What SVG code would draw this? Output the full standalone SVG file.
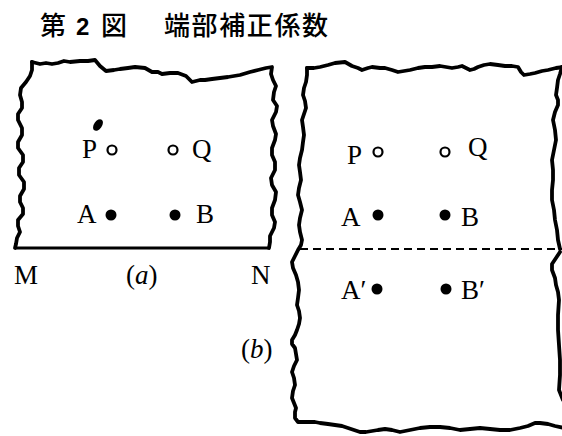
<svg xmlns="http://www.w3.org/2000/svg" width="562" height="436" viewBox="0 0 562 436">
<style>
.edge{fill:none;stroke:#000;stroke-width:3.8;stroke-linejoin:round;stroke-linecap:round}
.lbl{font-family:"Liberation Serif","Times New Roman",serif;font-size:27px;fill:#000}
.it{font-style:italic}
.ttl{font-family:"Noto Sans CJK JP","Noto Sans CJK SC",sans-serif;font-size:26px;font-weight:500;fill:#000}
.open{fill:#fff;stroke:#000;stroke-width:2.2}
.full{fill:#000}
</style>
<rect width="562" height="436" fill="#fff"/>
<g id="title">
<text class="ttl" x="40" y="35">第</text>
<text x="76" y="35" style="font-family:'Liberation Sans',Arial,sans-serif;font-weight:bold;font-size:24px">2</text>
<text class="ttl" x="101" y="35">図</text>
<text class="ttl" x="164" y="35" letter-spacing="1.6">端部補正係数</text>
</g>
<g id="panel-a">
<path class="edge" d="M32,62 L40,64 L46,63 L52,64 L58,63 L64,61 L70,62 L80,61 L88,61 L95,60 L100,66 L106,71 L114,70 L120,69 L128,68 L135,67 L145,68 L152,72 L158,72 L162,74 L170,73 L178,73 L186,76 L192,82 L200,80 L205,80 L212,79 L220,78 L228,77 L240,75 L250,72 L258,70 L266,68 L272,67 L271,74 L273,80 L276,86 L274,92 L273,100 L277,106 L276,112 L272,120 L273,126 L276,134 L275,140 L272,148 L272,155 L275,162 L275,170 L271,178 L272,185 L276,192 L275,200 L272,208 L272,215 L275,222 L274,228 L270,236 L270,242 L269,248"/>
<path class="edge" d="M32,62 L32,70 L30,76 L26,82 L21,88 L20,95 L22,102 L22,108 L18,114 L18,120 L22,128 L22,135 L18,142 L18,148 L23,155 L23,162 L19,168 L19,175 L24,182 L24,189 L20,196 L20,202 L23,208 L23,214 L18,220 L18,226 L20,232 L17,238 L16,244 L15,248"/>
<line x1="15" y1="248" x2="270" y2="248" stroke="#000" stroke-width="2.8"/>
<ellipse cx="98" cy="125" rx="4" ry="6.5" transform="rotate(35 98 125)" fill="#000"/>
</g>
<g id="a-P"><text class="lbl" x="82" y="158">P</text><circle class="open" cx="112" cy="150" r="4.5"/></g>
<g id="a-Q"><circle class="open" cx="173" cy="150" r="4.5"/><text class="lbl" x="192" y="158">Q</text></g>
<g id="a-A"><text class="lbl" x="77" y="223">A</text><circle class="full" cx="111" cy="215" r="5.5"/></g>
<g id="a-B"><circle class="full" cx="175" cy="215" r="5.5"/><text class="lbl" x="196" y="223">B</text></g>
<g id="a-labels">
<text class="lbl" x="14" y="284">M</text>
<text class="lbl" x="126" y="284">(<tspan class="it">a</tspan>)</text>
<text class="lbl" x="251" y="284">N</text>
</g>
<g id="panel-b">
<path class="edge" d="M307,68 L314,68 L320,67 L328,65 L335,63 L345,62 L352,66 L358,68 L362,70 L368,68 L372,67 L380,68 L385,68 L392,70 L398,72 L404,71 L410,70 L418,68 L425,67 L432,67 L440,66 L446,67 L452,68 L458,67 L462,66 L466,68 L470,70 L474,69 L478,67 L484,65 L490,64 L498,65 L505,66 L512,66 L518,67 L521,72 L524,75 L530,74 L535,73 L542,71 L548,70 L556,68 L564,67"/>
<path class="edge" d="M562,67 L560,74 L558,80 L557,88 L556,95 L558,100 L558,105 L555,112 L553,120 L555,130 L556,140 L554,150 L552,160 L553,170 L553,180 L552,190 L552,200 L554,210 L555,220 L557,230 L558,240 L560,249"/>
<path class="edge" d="M560,252 L556,258 L552,264 L552,270 L555,278 L556,285 L558,292 L559,300 L558,315 L558,330 L559,345 L560,360 L560,375 L559,390 L563,400"/>
<path class="edge" d="M564,428 L555,426 L548,424 L540,423 L535,423 L528,426 L520,428 L510,430 L500,430 L490,429 L480,428 L470,429 L460,430 L450,428 L440,427 L430,427 L420,428 L410,430 L400,432 L392,430 L385,429 L378,430 L372,431 L366,432 L360,432 L354,430 L348,428 L342,426 L335,425 L328,424 L320,423 L315,422 L310,422 L304,422 L298,422 L295,418 L295,412 L296,408 L294,403 L292,398 L293,391 L295,385 L294,378 L292,372 L294,366 L297,360 L296,354 L295,348 L292,344 L292,340 L295,335 L297,330 L299,324 L300,318 L299,311 L297,305 L298,298 L299,290 L298,282 L296,275 L293,268 L292,262 L295,256 L298,250 L301,245 L302,240 L300,232 L299,225 L300,218 L302,210 L300,202 L298,195 L299,188 L301,180 L300,172 L299,165 L300,158 L302,150 L303,142 L304,135 L303,127 L302,120 L304,114 L306,108 L305,101 L303,95 L304,88 L306,82 L307,75 L307,68"/>
<line x1="300" y1="249" x2="562" y2="249" stroke="#000" stroke-width="2.2" stroke-dasharray="8,5"/>
</g>
<g id="b-P"><text class="lbl" x="347" y="164">P</text><circle class="open" cx="378" cy="152" r="4.5"/></g>
<g id="b-Q"><circle class="open" cx="445" cy="152" r="4.5"/><text class="lbl" x="468" y="156">Q</text></g>
<g id="b-A"><text class="lbl" x="341" y="226">A</text><circle class="full" cx="378" cy="215" r="5.5"/></g>
<g id="b-B"><circle class="full" cx="445" cy="215" r="5.5"/><text class="lbl" x="461" y="226">B</text></g>
<g id="b-A2"><text class="lbl" x="341" y="299">A′</text><circle class="full" cx="377" cy="289" r="5.5"/></g>
<g id="b-B2"><circle class="full" cx="446" cy="289" r="5.5"/><text class="lbl" x="461" y="299">B′</text></g>
<g id="b-label"><text class="lbl" x="241" y="358">(<tspan class="it">b</tspan>)</text></g>
</svg>
